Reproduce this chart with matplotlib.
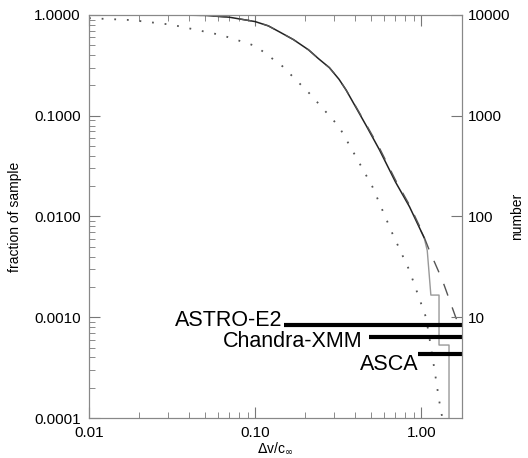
import numpy as np
import matplotlib
matplotlib.use('Agg')
import matplotlib.pyplot as plt
from matplotlib.ticker import FixedLocator, NullLocator, LogLocator, NullFormatter

plt.rcParams['font.family'] = ['Liberation Sans', 'DejaVu Sans']

# solid curve (simulated sample), fraction of sample vs dv/c
solid_x = [0.01, 0.02, 0.04, 0.05, 0.07, 0.10, 0.12, 0.14, 0.17, 0.21, 0.24, 0.28, 0.32, 0.353, 0.40,
           0.466, 0.56, 0.70, 0.85, 1.00, 1.04]
solid_y = [1.0, 1.0, 0.995, 0.99, 0.95, 0.86, 0.78, 0.68, 0.57, 0.45, 0.37, 0.30, 0.23, 0.18, 0.125,
           0.080, 0.046, 0.022, 0.0125, 0.0071, 0.0062]

# gray step tail of the same sample
step_x = [1.00, 1.04, 1.087, 1.143, 1.28, 1.28, 1.47, 1.47]
step_y = [0.0071, 0.0062, 0.0046, 0.00166, 0.00166, 0.00053, 0.00053, 0.00005]

# dashed model curve
dash_x = [0.01, 0.02, 0.04, 0.05, 0.07, 0.10, 0.12, 0.14, 0.17, 0.21, 0.24, 0.28, 0.32, 0.353, 0.40,
          0.466, 0.56, 0.70, 0.85, 1.00, 1.117, 1.34, 1.62, 1.69]
dash_y = [1.0, 1.0, 0.995, 0.99, 0.95, 0.86, 0.78, 0.68, 0.57, 0.45, 0.37, 0.30, 0.23, 0.18, 0.127,
          0.082, 0.048, 0.023, 0.013, 0.0074, 0.00465, 0.00234, 0.00098, 0.00088]

# dotted curve
dot_x = [0.01, 0.018, 0.0315, 0.063, 0.091, 0.101, 0.146, 0.212, 0.32, 0.405, 0.508, 0.67, 0.85, 1.07,
         1.143, 1.21, 1.26, 1.30, 1.34]
dot_y = [0.93, 0.89, 0.80, 0.63, 0.52, 0.49, 0.31, 0.167, 0.078, 0.039, 0.0198, 0.0068, 0.0029, 0.00099,
         0.00051, 0.00028, 0.00018, 0.00013, 0.0001]

# instrument resolution bars
instruments = ['ASTRO-E2', 'Chandra-XMM', 'ASCA']
bar_start = [0.150, 0.488, 0.95]
bar_level = [0.00084, 0.00064, 0.00043]
label_right = [0.146, 0.443, 0.96]
label_y = [0.00092, 0.00058, 0.000343]

xmin, xmax = 0.01, 1.76
ymin, ymax = 0.0001, 1.0
n_total = 10000

fig = plt.figure(figsize=(5.28, 4.58), dpi=100)
ax = fig.add_axes([0.1686, 0.0873, 0.7064, 0.8800])

ax.plot(step_x, step_y, color='#999999', lw=1.0)
ax.plot(solid_x, solid_y, color='#222222', lw=1.1)
ax.plot(dash_x, dash_y, color='#555555', lw=1.0, linestyle=(0, (9, 9)))
ax.plot(dot_x, dot_y, color='#555555', lw=1.3, linestyle=(0, (1, 6)))

for name, xs, yl, xr, ly in zip(instruments, bar_start, bar_level, label_right, label_y):
    ax.hlines(yl, xs, xmax, color='black', lw=3)
    ax.text(xr, ly, name, ha='right', va='center', fontsize=15.5)

ax.set_xscale('log')
ax.set_yscale('log')
ax.set_xlim(xmin, xmax)
ax.set_ylim(ymin, ymax)

ax.set_xticks([0.01, 0.1, 1.0])
ax.set_xticklabels(['0.01', '0.10', '1.00'])
ax.xaxis.set_minor_locator(LogLocator(base=10, subs=np.arange(2, 10)))
ax.xaxis.set_minor_formatter(NullFormatter())
ax.set_yticks([0.0001, 0.001, 0.01, 0.1, 1.0])
ax.set_yticklabels(['0.0001', '0.0010', '0.0100', '0.1000', '1.0000'])
ax.yaxis.set_minor_locator(LogLocator(base=10, subs=np.arange(2, 10)))
ax.yaxis.set_minor_formatter(NullFormatter())

ax.tick_params(which='both', direction='in', top=True, right=False, labelsize=11, color='#777777')
ax.tick_params(which='major', length=8, pad=6)
ax.tick_params(which='minor', length=4)
for s in ax.spines.values():
    s.set_color('#888888')

ax.set_xlabel(r'$\Delta$v/c$_\infty$', fontsize=10, labelpad=0)
ax.set_ylabel('fraction of sample', fontsize=10, labelpad=9)

ax2 = ax.twinx()
ax2.set_yscale('log')
ax2.set_ylim(ymin * n_total, ymax * n_total)
ax2.yaxis.set_major_locator(FixedLocator([10, 100, 1000, 10000]))
ax2.set_yticklabels(['10', '100', '1000', '10000'])
ax2.yaxis.set_minor_locator(NullLocator())
ax2.tick_params(direction='in', length=8, labelsize=11, color='#777777', pad=4)
ax2.set_ylabel('number', fontsize=10, labelpad=0)
for s in ax2.spines.values():
    s.set_color('#888888')

fig.savefig('out.png', dpi=100)
